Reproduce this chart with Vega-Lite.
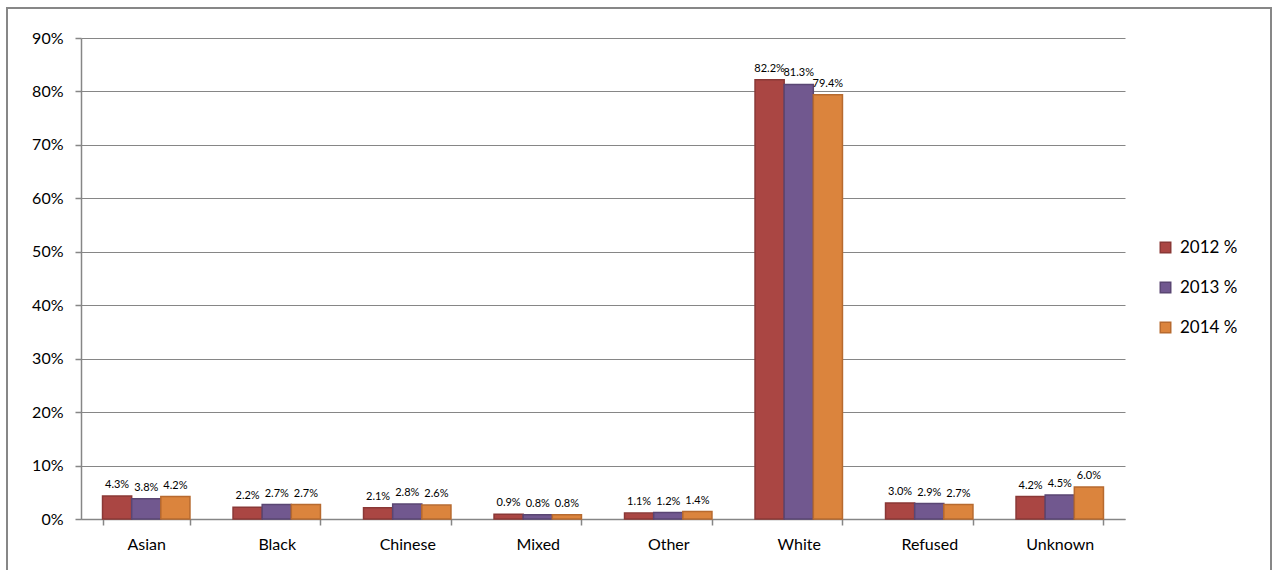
{
  "$schema": "https://vega.github.io/schema/vega-lite/v6.json",
  "width": 1264,
  "height": 570,
  "autosize": "none",
  "padding": {"left": 7, "top": 8, "right": 2, "bottom": 0},
  "background": "white",
  "config": {
    "view": {"stroke": "#878787", "strokeWidth": 2},
    "font": "Lato",
    "axis": {"labelFont": "Lato", "labelColor": "#000000"},
    "legend": {"labelFont": "Lato"}
  },
  "data": {
    "values": [
      {"group": "Asian", "series": "2012 %", "value": 0.043},
      {"group": "Asian", "series": "2013 %", "value": 0.038},
      {"group": "Asian", "series": "2014 %", "value": 0.042},
      {"group": "Black", "series": "2012 %", "value": 0.022},
      {"group": "Black", "series": "2013 %", "value": 0.027},
      {"group": "Black", "series": "2014 %", "value": 0.027},
      {"group": "Chinese", "series": "2012 %", "value": 0.021},
      {"group": "Chinese", "series": "2013 %", "value": 0.028},
      {"group": "Chinese", "series": "2014 %", "value": 0.026},
      {"group": "Mixed", "series": "2012 %", "value": 0.009},
      {"group": "Mixed", "series": "2013 %", "value": 0.008},
      {"group": "Mixed", "series": "2014 %", "value": 0.008},
      {"group": "Other", "series": "2012 %", "value": 0.011},
      {"group": "Other", "series": "2013 %", "value": 0.012},
      {"group": "Other", "series": "2014 %", "value": 0.014},
      {"group": "White", "series": "2012 %", "value": 0.822},
      {"group": "White", "series": "2013 %", "value": 0.813},
      {"group": "White", "series": "2014 %", "value": 0.794},
      {"group": "Refused", "series": "2012 %", "value": 0.030},
      {"group": "Refused", "series": "2013 %", "value": 0.029},
      {"group": "Refused", "series": "2014 %", "value": 0.027},
      {"group": "Unknown", "series": "2012 %", "value": 0.042},
      {"group": "Unknown", "series": "2013 %", "value": 0.045},
      {"group": "Unknown", "series": "2014 %", "value": 0.060}
    ]
  },
  "encoding": {
    "x": {
      "field": "group",
      "type": "nominal",
      "sort": ["Asian", "Black", "Chinese", "Mixed", "Other", "White", "Refused", "Unknown"],
      "title": null,
      "scale": {"paddingInner": 0.33, "paddingOuter": 0.165, "rangeMin": 74, "rangeMax": 1118},
      "axis": {
        "offset": -59,
        "labelAngle": 0,
        "labelFontSize": 16,
        "labelPadding": 11,
        "tickBand": "extent",
        "tickSize": 6,
        "tickColor": "#868686",
        "domainColor": "#868686",
        "tickWidth": 1.5,
        "domainWidth": 1.5
      }
    },
    "xOffset": {
      "field": "series",
      "type": "nominal",
      "scale": {"paddingInner": 0, "paddingOuter": 0}
    },
    "y": {
      "field": "value",
      "type": "quantitative",
      "title": null,
      "scale": {"domain": [0, 0.9], "nice": false, "rangeMin": 511, "rangeMax": 30},
      "axis": {
        "offset": -74,
        "format": ".0%",
        "values": [0, 0.1, 0.2, 0.3, 0.4, 0.5, 0.6, 0.7, 0.8, 0.9],
        "labelFontSize": 16,
        "labelPadding": 12,
        "tickSize": 6,
        "tickColor": "#868686",
        "domainColor": "#868686",
        "gridColor": "#868686",
        "gridWidth": 1,
        "tickWidth": 1.5,
        "domainWidth": 1.5,
        "grid": true
      }
    }
  },
  "layer": [
    {
      "mark": {"type": "bar", "strokeWidth": 1.5},
      "encoding": {
        "color": {
          "field": "series",
          "type": "nominal",
          "scale": {"domain": ["2012 %", "2013 %", "2014 %"], "range": ["#AA4643", "#71588F", "#DB843D"]},
          "legend": {
            "title": null,
            "orient": "none",
            "legendX": 1150,
            "legendY": 231,
            "padding": 0,
            "symbolType": "square",
            "symbolSize": 110,
            "symbolStrokeWidth": 1.5,
            "labelFontSize": 17,
            "rowPadding": 22,
            "labelOffset": 6
          }
        },
        "stroke": {
          "field": "series",
          "type": "nominal",
          "scale": {"domain": ["2012 %", "2013 %", "2014 %"], "range": ["#8A3836", "#5A4673", "#B76A2F"]},
          "legend": null
        }
      }
    },
    {
      "mark": {"type": "text", "baseline": "bottom", "dy": -6, "fontSize": 11, "color": "#000000"},
      "encoding": {
        "text": {"field": "value", "type": "quantitative", "format": ".1%"}
      }
    }
  ]
}
